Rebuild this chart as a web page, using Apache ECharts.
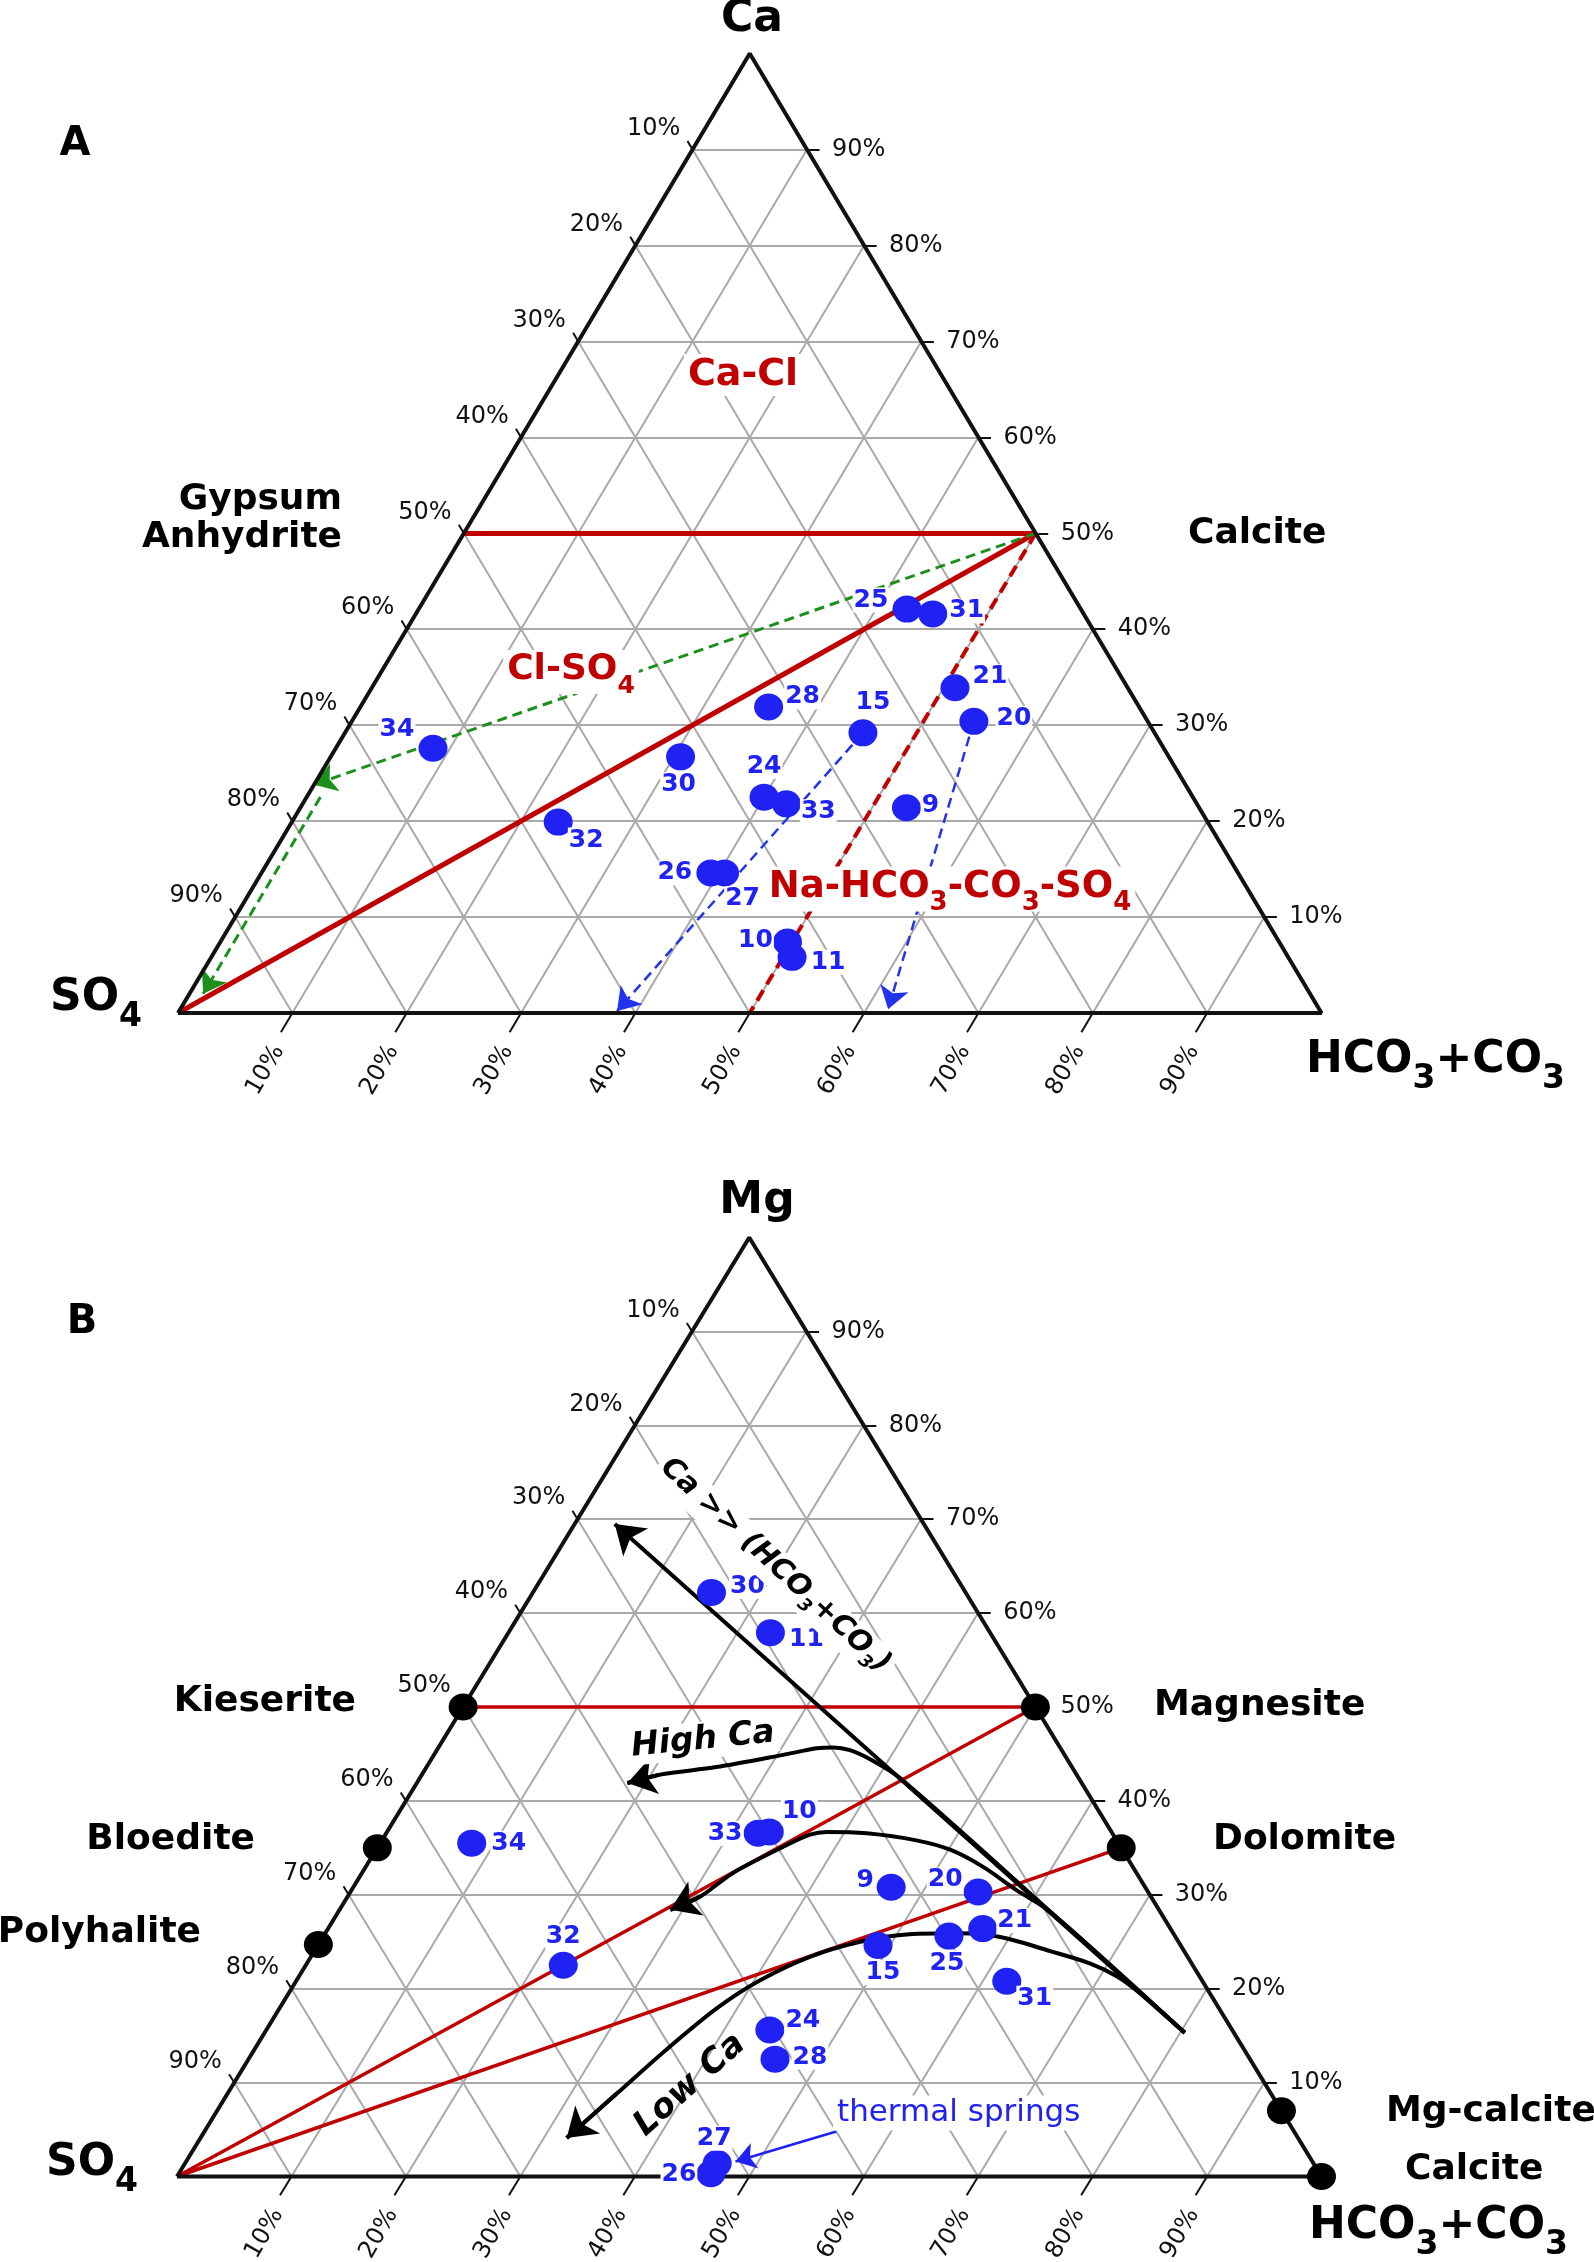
<!DOCTYPE html>
<html>
<head>
<meta charset="utf-8">
<title>Ternary diagrams A / B</title>
<script src="https://cdn.jsdelivr.net/npm/echarts@6/dist/echarts.min.js"></script>
<style>
  html, body { margin: 0; padding: 0; background: #fff; }
  #chart { width: 1594px; height: 2262px; }
</style>
</head>
<body>
<div id="chart"></div>
<script>
// tick values on the three sides (%)
const ticks = [10, 20, 30, 40, 50, 60, 70, 80, 90];

// ---- diagram A : Ca (top) / SO4 (left) / HCO3+CO3 (right), values in % ----
const aIds  = ['34', '30', '32', '24', '33', '26', '27', '28', '10', '11', '25', '31', '21', '20', '15', '9'];
const aCa   = [27.6, 26.7, 19.9, 22.5, 21.8, 14.6, 14.6, 31.9, 7.4, 5.8, 42.1, 41.6, 33.9, 30.4, 29.2, 21.4];
const aHco3 = [8.5, 30.6, 23.3, 40.0, 42.3, 39.3, 40.5, 35.7, 49.6, 50.8, 42.7, 45.2, 51.0, 54.4, 45.3, 53.0];

// boundaries / trends in A, each point is [top %, right %]
const aRedSolid   = [[[50, 0], [50, 50]], [[0, 0], [50, 50]]];
const aRedDashed  = [[[50, 50], [0, 50]]];
const aGreenArrow = [[[50, 50], [23.8, 0]], [[22.5, 1.2], [2, 1.2]]];
const aBlueArrow  = [[[29.2, 45.3], [0.2, 38.3]], [[30.4, 54.4], [0.4, 61.9]]];

// ---- diagram B : Mg (top) / SO4 (left) / HCO3+CO3 (right) ----
const bIds  = ['30', '11', '34', '33', '10', '32', '9', '20', '21', '25', '15', '31', '24', '28', '27', '26'];
const bMg   = [62.2, 57.9, 35.5, 36.55, 36.7, 22.5, 30.8, 30.3, 26.4, 25.6, 24.6, 20.8, 15.6, 12.5, 1.4, 0.3];
const bHco3 = [15.6, 22.9, 8.0, 32.5, 33.4, 22.5, 47.0, 54.85, 57.2, 54.65, 48.95, 62.1, 44.0, 46.0, 46.5, 46.5];

// mineral end-members in B
const minNames = ['Kieserite', 'Bloedite', 'Polyhalite', 'Magnesite', 'Dolomite', 'Mg-calcite', 'Calcite'];
const minMg    = [50, 35, 24.7, 50, 35, 7, 0];
const minHco3  = [0, 0, 0, 50, 65, 93, 100];

const bRedLines = [[[50, 0], [50, 50]], [[0, 0], [50, 50]], [[0, 0], [35, 65]]];
const bStraight = [[15.3, 80.4], [69.5, 3.5]];
const bHighCa = [[15.3, 80.4], [28.2, 62.2], [42.4, 42.0], [44.4, 38.4], [45.4, 36.1], [45.7, 34.5],
                 [45.6, 33.1], [44.9, 30.5], [43.6, 25.3], [42.8, 20.8], [41.9, 18.4]];
const bMidCa  = [[15.3, 80.4], [28.2, 62.2], [30.5, 58.1], [33.0, 53.9], [34.8, 50.15], [35.8, 46.7],
                 [36.55, 42.0], [36.7, 38.4], [36.4, 37.1], [35.1, 35.4], [32.3, 32.4], [29.8, 30.8], [28.4, 28.9]];
const bLowCa  = [[15.3, 80.4], [19.5, 74.4], [21.3, 71.5], [22.7, 68.4], [24.0, 64.3], [25.5, 59.2],
                 [25.9, 55.4], [25.8, 51.1], [25.0, 47.2], [23.4, 43.6], [20.9, 40.5], [17.9, 38.2],
                 [13.5, 36.0], [8.8, 34.0], [4.1, 32.0]];
const bThermal = [[4.8, 55.2], [1.6, 48.0]];

// label offsets (px) of the sample numbers
const aLabelOff = {'34': [-36, -19], '30': [-2, 28], '32': [28, 18], '24': [0, -31], '33': [32, 8], '26': [-36, 0],
  '27': [18, 26], '28': [34, -10], '10': [-32, -2], '11': [36, 5], '25': [-36, -9], '31': [34, -3],
  '21': [35, -11], '20': [40, -3], '15': [10, -30], '9': [24, -2]};
const bLabelOff = {'30': [36, -6], '11': [36, 7], '34': [37, 0], '33': [-33, 0], '10': [30, -20], '32': [0, -29],
  '9': [-26, -7], '20': [-33, -12], '21': [32, -8], '25': [-2, 27], '15': [5, 27], '31': [28, 17],
  '24': [33, -10], '28': [35, -2], '27': [-3, -25], '26': [-32, 1]};

const GA = {left: 178, top: 53.6, width: 1143.5, height: 959.4};
const GB = {left: 177, top: 1237.5, width: 1144.5, height: 939};

const FONT = '"DejaVu Sans", sans-serif';
const BLUE = '#1f22f2';
const RED = '#c00000';

// ternary (top, right) -> cartesian data coords
function tern(t, h) { return [h + t / 2, t]; }
function toPx(g, t, h) {
  const d = tern(t, h);
  return [g.left + d[0] / 100 * g.width, g.top + g.height * (1 - d[1] / 100)];
}
function segs(list) { return list.map(s => ({coords: s.map(p => tern(p[0], p[1]))})); }

function gridSegs() {
  const out = [];
  ticks.forEach(v => {
    out.push([[v, 0], [v, 100 - v]]);
    out.push([[0, v], [100 - v, v]]);
    out.push([[0, 100 - v], [100 - v, 0]]);
  });
  return out;
}
function tickSegs() {
  const out = [];
  ticks.forEach(v => {
    out.push([[100 - v, 0], [100 - v + 0.9, -0.9]]);
    out.push([[v, 100 - v], [v, 100 - v + 1.1]]);
    out.push([[0, v], [-2, v]]);
  });
  return out;
}

function linesSeries(idx, data, style, extra) {
  return Object.assign({
    type: 'lines', coordinateSystem: 'cartesian2d', xAxisIndex: idx, yAxisIndex: idx,
    silent: true, clip: false, z: 3, data: segs(data), lineStyle: style
  }, extra || {});
}
function frame(idx) {
  return [
    linesSeries(idx, gridSegs(), {color: '#a9a9a9', width: 2, opacity: 1}, {z: 1}),
    {type: 'line', xAxisIndex: idx, yAxisIndex: idx, silent: true, clip: false, z: 5, symbol: 'none',
     data: [[0, 0], [100, 0], [50, 100], [0, 0]],
     lineStyle: {color: '#111', width: 4}},
    linesSeries(idx, tickSegs(), {color: '#111', width: 2, opacity: 1}, {z: 5})
  ];
}
function arrowSeries(idx, list, style, size) {
  return linesSeries(idx, list, style, {symbol: ['none', 'arrow'], symbolSize: size, z: 4});
}
function curve(idx, pts) {
  return [
    {type: 'line', xAxisIndex: idx, yAxisIndex: idx, silent: true, clip: false, z: 4, symbol: 'none',
     smooth: 0.3, data: pts.map(p => tern(p[0], p[1])), lineStyle: {color: '#000', width: 4}},
    arrowSeries(idx, [pts.slice(-2)], {color: '#000', width: 4, opacity: 1}, 28)
  ];
}
function samples(idx, ids, tops, rights, offs) {
  return {
    type: 'scatter', xAxisIndex: idx, yAxisIndex: idx, clip: false, z: 10, silent: true,
    symbolSize: [29, 27], itemStyle: {color: BLUE, opacity: 1},
    data: ids.map((id, i) => ({value: tern(tops[i], rights[i]), name: id, label: {offset: offs[id]}})),
    label: {show: true, position: 'inside', formatter: '{b}', color: BLUE, fontSize: 25, fontWeight: 'bold',
            fontFamily: FONT, backgroundColor: '#fff', padding: [0, 1]}
  };
}

// ---------- text helpers ----------
function txt(x, y, text, style, el) {
  return Object.assign({type: 'text', x: x, y: y, z: 20, silent: true,
    style: Object.assign({text: text, fill: '#000', align: 'center', verticalAlign: 'middle',
                          font: 'bold 36px ' + FONT}, style || {})}, el || {});
}
function subRich(size, subSize, drop, color, italic) {
  const base = {fontFamily: FONT, fontWeight: 'bold', fontStyle: italic ? 'italic' : 'normal', fill: color, color: color};
  return {
    m: Object.assign({fontSize: size, lineHeight: size + 4, verticalAlign: 'top'}, base),
    s: Object.assign({fontSize: subSize, lineHeight: subSize, padding: [drop, 0, 0, 0], verticalAlign: 'top'}, base)
  };
}
function percentLabels(g) {
  const out = [];
  const st = {font: '24px ' + FONT, fill: '#111'};
  ticks.forEach(v => {
    let p = toPx(g, 100 - v, 0);
    out.push(txt(p[0] - 39, p[1] - 21, v + '%', st));
    p = toPx(g, v, 100 - v);
    out.push(txt(p[0] + 25, p[1], v + '%', Object.assign({}, st, {align: 'left'})));
    p = toPx(g, 0, v);
    out.push(txt(p[0] - 27, p[1] + 57, v + '%', st, {rotation: Math.PI / 3}));
  });
  return out;
}

const white = {backgroundColor: '#fff', padding: [2, 4]};
const graphics = [].concat(
  percentLabels(GA), percentLabels(GB),
  [
    // diagram A
    txt(752, 20, 'Ca', {font: 'bold 44px ' + FONT}),
    txt(75, 145, 'A', {font: 'bold 40px ' + FONT}),
    txt(342, 500, 'Gypsum', {align: 'right'}),
    txt(342, 538, 'Anhydrite', {align: 'right'}),
    txt(1188, 534, 'Calcite', {align: 'left'}),
    txt(50, 1001, '{m|SO}{s|4}', {align: 'left', rich: subRich(44, 33, 24, '#000')}),
    txt(1306, 1063, '{m|HCO}{s|3}{m|+CO}{s|3}', {align: 'left', rich: subRich(44, 33, 24, '#000')}),
    txt(743, 375, 'Ca-Cl', Object.assign({fill: RED, font: 'bold 38px ' + FONT}, white)),
    txt(571, 672, '{m|Cl-SO}{s|4}', Object.assign({fill: RED, rich: subRich(36, 25, 22, RED)}, white)),
    txt(950, 889, '{m|Na-HCO}{s|3}{m|-CO}{s|3}{m|-SO}{s|4}',
        Object.assign({fill: RED, rich: subRich(37, 26, 22, RED)}, white)),
    // diagram B
    txt(757, 1202, 'Mg', {font: 'bold 44px ' + FONT}),
    txt(82, 1323, 'B', {font: 'bold 40px ' + FONT}),
    txt(356, 1702, 'Kieserite', {align: 'right'}),
    txt(255, 1840, 'Bloedite', {align: 'right'}),
    txt(201, 1933, 'Polyhalite', {align: 'right'}),
    txt(1154, 1706, 'Magnesite', {align: 'left'}),
    txt(1213, 1840, 'Dolomite', {align: 'left'}),
    txt(1386, 2112, 'Mg-calcite', {align: 'left'}),
    txt(1405, 2170, 'Calcite', {align: 'left'}),
    txt(46, 2166, '{m|SO}{s|4}', {align: 'left', rich: subRich(44, 33, 24, '#000')}),
    txt(1309, 2229, '{m|HCO}{s|3}{m|+CO}{s|3}', {align: 'left', rich: subRich(44, 33, 24, '#000')}),
    txt(703, 1740, 'High Ca', Object.assign({font: 'italic bold 33px ' + FONT}, white), {rotation: 0.1}),
    txt(690, 2085, 'Low Ca', {font: 'italic bold 34px ' + FONT}, {rotation: 0.73}),
    txt(774, 1567, '{m|Ca >> (HCO}{s|3}{m|+CO}{s|3}{m|)}',
        Object.assign({rich: subRich(29, 18, 16, '#000', true)}, white), {rotation: -0.745}),
    txt(833, 2113, 'thermal springs', Object.assign({align: 'left', fill: BLUE, font: '31px ' + FONT}, white))
  ]
);

const series = [].concat(
  frame(0),
  linesSeries(0, aRedSolid, {color: RED, width: 5, opacity: 1}),
  linesSeries(0, aRedDashed, {color: RED, width: 4, type: [12, 7], opacity: 1}),
  arrowSeries(0, aGreenArrow, {color: '#1d8f1d', width: 3, type: [10, 6], opacity: 1}, 22),
  arrowSeries(0, aBlueArrow, {color: '#2233ee', width: 2.5, type: [10, 6], opacity: 1}, 22),
  samples(0, aIds, aCa, aHco3, aLabelOff),

  frame(1),
  linesSeries(1, bRedLines, {color: RED, width: 3.5, opacity: 1}),
  arrowSeries(1, [bStraight], {color: '#000', width: 4, opacity: 1}, 28),
  curve(1, bHighCa),
  curve(1, bMidCa),
  curve(1, bLowCa),
  arrowSeries(1, [bThermal], {color: BLUE, width: 2.5, opacity: 1}, 20),
  {type: 'scatter', xAxisIndex: 1, yAxisIndex: 1, clip: false, z: 10, silent: true,
   symbolSize: [29, 27], itemStyle: {color: '#000', opacity: 1},
   data: minNames.map((n, i) => ({name: n, value: tern(minMg[i], minHco3[i])}))},
  samples(1, bIds, bMg, bHco3, bLabelOff)
);

const chart = echarts.init(document.getElementById('chart'), null, {renderer: 'canvas'});
chart.setOption({
  animation: false,
  backgroundColor: '#fff',
  grid: [
    {left: GA.left, top: GA.top, width: GA.width, height: GA.height},
    {left: GB.left, top: GB.top, width: GB.width, height: GB.height}
  ],
  xAxis: [
    {gridIndex: 0, type: 'value', min: 0, max: 100, show: false},
    {gridIndex: 1, type: 'value', min: 0, max: 100, show: false}
  ],
  yAxis: [
    {gridIndex: 0, type: 'value', min: 0, max: 100, show: false},
    {gridIndex: 1, type: 'value', min: 0, max: 100, show: false}
  ],
  series: series,
  graphic: graphics
});
</script>
</body>
</html>
